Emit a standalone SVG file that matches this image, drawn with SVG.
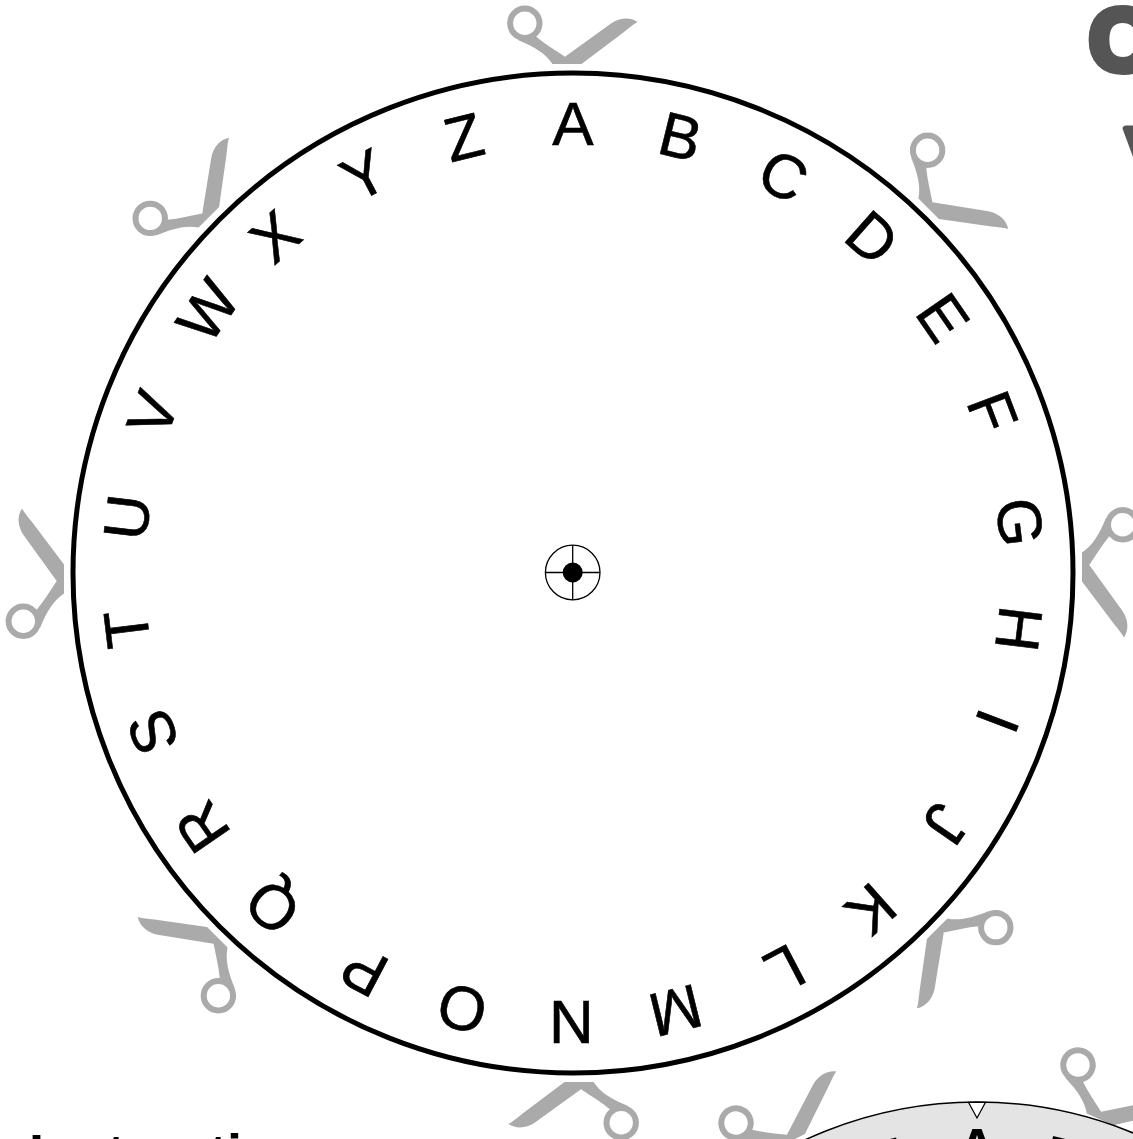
<svg xmlns="http://www.w3.org/2000/svg" width="1133" height="1139" viewBox="0 0 1133 1139">
<style>
.sc{fill:#aaa;stroke:none}
.ring{fill:none;stroke:#aaa;stroke-width:6}
.lt{font-family:"Liberation Sans",Arial,sans-serif;font-size:62px;fill:#000;stroke:#000;stroke-width:.6}
.lb{font-family:"Liberation Sans",Arial,sans-serif;font-size:54px;font-weight:700;fill:#000}
.ins{font-family:"Liberation Sans",Arial,sans-serif;font-size:54px;font-weight:700;fill:#000}
.big{font-family:"Liberation Sans",Arial,sans-serif;font-weight:700;fill:#555;stroke:#555;stroke-linejoin:round}
</style>
<defs>
<g id="scissors">
<circle class="ring" cx="524.8" cy="23.3" r="14.7"/>
<path class="sc" d="M552.5,64 C546,54 535,47 518,40 L536,36.5 C545,44 555,50 565,56.7 L611,23.5 C620,17.5 630,17 637.5,22 C633,24.5 629,28 624,32 L581.5,64 Z"/>
</g>
</defs>
<g id="titles">
<text class="big" x="1089" y="70" font-size="88" stroke-width="8">C</text>
<text class="big" x="1125" y="195" font-size="97" stroke-width="6">V</text>
<text class="ins" x="29" y="1172">Instructions</text>
</g>
<g id="outer-cuts">
<use href="#scissors" transform="rotate(0 573 573)"/>
<use href="#scissors" transform="rotate(45 573 573)"/>
<use href="#scissors" transform="rotate(90 573 573)"/>
<use href="#scissors" transform="rotate(135 573 573)"/>
<use href="#scissors" transform="rotate(180 573 573)"/>
<use href="#scissors" transform="rotate(225 573 573)"/>
<use href="#scissors" transform="rotate(270 573 573)"/>
<use href="#scissors" transform="rotate(315 573 573)"/>
</g>
<g id="wheel-large">
<circle cx="573" cy="573" r="500" fill="#fff" stroke="#000" stroke-width="5"/>
<g id="letters-large">
<text class="lt" x="552.3" y="145" transform="rotate(0 573 573)">A</text>
<text class="lt" x="552.3" y="145" transform="rotate(13.846 573 573)">B</text>
<text class="lt" x="552.3" y="145" transform="rotate(27.692 573 573)">C</text>
<text class="lt" x="552.3" y="145" transform="rotate(41.538 573 573)">D</text>
<text class="lt" x="552.3" y="145" transform="rotate(55.385 573 573)">E</text>
<text class="lt" x="552.3" y="145" transform="rotate(69.231 573 573)">F</text>
<text class="lt" x="552.3" y="145" transform="rotate(83.077 573 573)">G</text>
<text class="lt" x="552.3" y="145" transform="rotate(96.923 573 573)">H</text>
<text class="lt" x="552.3" y="145" transform="rotate(110.769 573 573)">I</text>
<text class="lt" x="552.3" y="145" transform="rotate(124.615 573 573)">J</text>
<text class="lt" x="552.3" y="145" transform="rotate(138.462 573 573)">K</text>
<text class="lt" x="552.3" y="145" transform="rotate(152.308 573 573)">L</text>
<text class="lt" x="552.3" y="145" transform="rotate(166.154 573 573)">M</text>
<text class="lt" x="552.3" y="145" transform="rotate(180 573 573)">N</text>
<text class="lt" x="552.3" y="145" transform="rotate(193.846 573 573)">O</text>
<text class="lt" x="552.3" y="145" transform="rotate(207.692 573 573)">P</text>
<text class="lt" x="552.3" y="145" transform="rotate(221.538 573 573)">Q</text>
<text class="lt" x="552.3" y="145" transform="rotate(235.385 573 573)">R</text>
<text class="lt" x="552.3" y="145" transform="rotate(249.231 573 573)">S</text>
<text class="lt" x="552.3" y="145" transform="rotate(263.077 573 573)">T</text>
<text class="lt" x="552.3" y="145" transform="rotate(276.923 573 573)">U</text>
<text class="lt" x="552.3" y="145" transform="rotate(290.769 573 573)">V</text>
<text class="lt" x="552.3" y="145" transform="rotate(304.615 573 573)">W</text>
<text class="lt" x="552.3" y="145" transform="rotate(318.462 573 573)">X</text>
<text class="lt" x="552.3" y="145" transform="rotate(332.308 573 573)">Y</text>
<text class="lt" x="552.3" y="145" transform="rotate(346.154 573 573)">Z</text>
</g>
<g id="hub" fill="none" stroke="#000" stroke-width="1.3">
<circle cx="572.7" cy="572.5" r="27.3"/>
<path d="M545.4,572.5H600M572.7,545.2V599.8"/>
<circle cx="572.7" cy="572.5" r="10" fill="#000" stroke="none"/>
</g>
</g>
<g id="inner-cuts">
<use href="#scissors" transform="translate(736 1123) rotate(-26.6) translate(-524.8 -23.3)"/>
<use href="#scissors" transform="translate(1078 1065) rotate(24) translate(-524.8 -23.3)"/>
</g>
<g id="wheel-small">
<circle cx="977" cy="1511" r="409" fill="#e4e4e4" stroke="#000" stroke-width="1.5"/>
<path d="M968.5,1102.3H985.5L977,1118Z" fill="#fff" stroke="#000" stroke-width="1.2"/>
<text class="lb" x="957.5" y="1166">A</text>
<text class="lb" x="957.5" y="1166" transform="rotate(13.846 977 1511)">B</text>
<text class="lb" x="957.5" y="1166" transform="rotate(-13.846 977 1511)">Z</text>
</g>
</svg>
